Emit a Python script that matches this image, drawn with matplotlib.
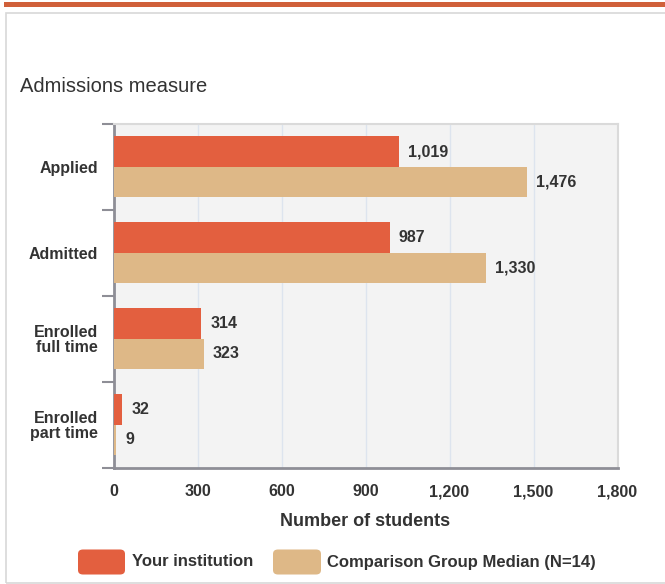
import matplotlib
matplotlib.use("Agg")
import matplotlib.pyplot as plt
from matplotlib.patches import Rectangle, FancyBboxPatch
from matplotlib.ticker import FuncFormatter
import numpy as np

plt.rcParams['font.family'] = ['Liberation Sans', 'DejaVu Sans']

categories = ["Applied", "Admitted", "Enrolled\nfull time", "Enrolled\npart time"]
series_names = ["Your institution", "Comparison Group Median (N=14)"]
your_inst = [1019, 987, 314, 32]
comparison = [1476, 1330, 323, 9]
xticks = [0, 300, 600, 900, 1200, 1500, 1800]
colors = ["#E35F3F", "#DEB887"]

W, H = 665, 584
fig = plt.figure(figsize=(W / 100, H / 100), dpi=100)

def fx(px):
    return px / W

def fy(py):
    return 1 - py / H

# top accent line and frame
fig.patches.append(Rectangle((fx(4), fy(7)), fx(665) - fx(4), 5 / H,
                             transform=fig.transFigure, facecolor="#D0603A",
                             edgecolor="none"))
fig.patches.append(Rectangle((fx(6), fy(583)), 1.2, fy(13) - fy(583),
                             transform=fig.transFigure, facecolor="none",
                             edgecolor="#D8D8D8", linewidth=1.2))

fig.text(fx(20), fy(86), "Admissions measure", fontsize=14.5, color="#333333",
         va="center", ha="left")

ax = fig.add_axes([fx(113.5), fy(467.5), fx(617.5) - fx(113.5), fy(124) - fy(467.5)])
ax.set_facecolor("#F3F3F3")

y = np.arange(len(categories))
h = 0.355
b1 = ax.barh(y - h / 2, your_inst, height=h, color=colors[0], zorder=3)
b2 = ax.barh(y + h / 2, comparison, height=h, color=colors[1], zorder=3)

for bars, vals in ((b1, your_inst), (b2, comparison)):
    for bar, v in zip(bars, vals):
        ax.annotate(f"{v:,}", (bar.get_width(), bar.get_y() + bar.get_height() / 2),
                    xytext=(9, 0), textcoords="offset pixels", va="center",
                    ha="left", fontsize=11.5, fontweight="bold", color="#333333")

ax.set_xlim(0, 1800)
ax.set_ylim(len(categories) - 0.5, -0.5)
ax.set_xticks(xticks)
ax.xaxis.set_major_formatter(FuncFormatter(lambda v, p: f"{int(v):,}"))
ax.tick_params(axis="x", length=0, pad=12, labelsize=11.5, labelcolor="#333333")
for lbl in ax.get_xticklabels():
    lbl.set_fontweight("bold")
ax.grid(axis="x", color="#DDE4EE", linewidth=1, zorder=0)

ax.set_yticks(y)
ax.set_yticklabels(categories, fontsize=11.5, fontweight="bold", color="#333333",
                   linespacing=1.0, multialignment="right")
ax.set_yticks(np.arange(-0.5, len(categories), 1), minor=True)
ax.tick_params(axis="y", which="major", length=0, pad=11)
ax.tick_params(axis="y", which="minor", length=9, width=1.5, color="#8E8E96")

for s in ("top", "right"):
    ax.spines[s].set_color("#DADADA")
    ax.spines[s].set_linewidth(1.5)
for s in ("left", "bottom"):
    ax.spines[s].set_color("#8E8E96")
    ax.spines[s].set_linewidth(2)

ax.set_xlabel("Number of students", fontsize=13, fontweight="bold",
              color="#333333", labelpad=10)

# legend
legend_boxes = [(78, 125), (273, 321)]
legend_text_x = [132, 327]
for (x0, x1), tx, name, c in zip(legend_boxes, legend_text_x, series_names, colors):
    pad = 4
    fig.patches.append(FancyBboxPatch((fx(x0 + pad), fy(575 - pad)),
                                      (x1 - x0 - 2 * pad) / W,
                                      (26 - 2 * pad) / H,
                                      boxstyle=f"round,pad={pad / W},rounding_size={5 / W}",
                                      transform=fig.transFigure,
                                      facecolor=c, edgecolor="none"))
    fig.text(fx(tx), fy(562), name, fontsize=12, fontweight="bold",
             color="#333333", va="center", ha="left")

fig.savefig("out.png", dpi=100)
